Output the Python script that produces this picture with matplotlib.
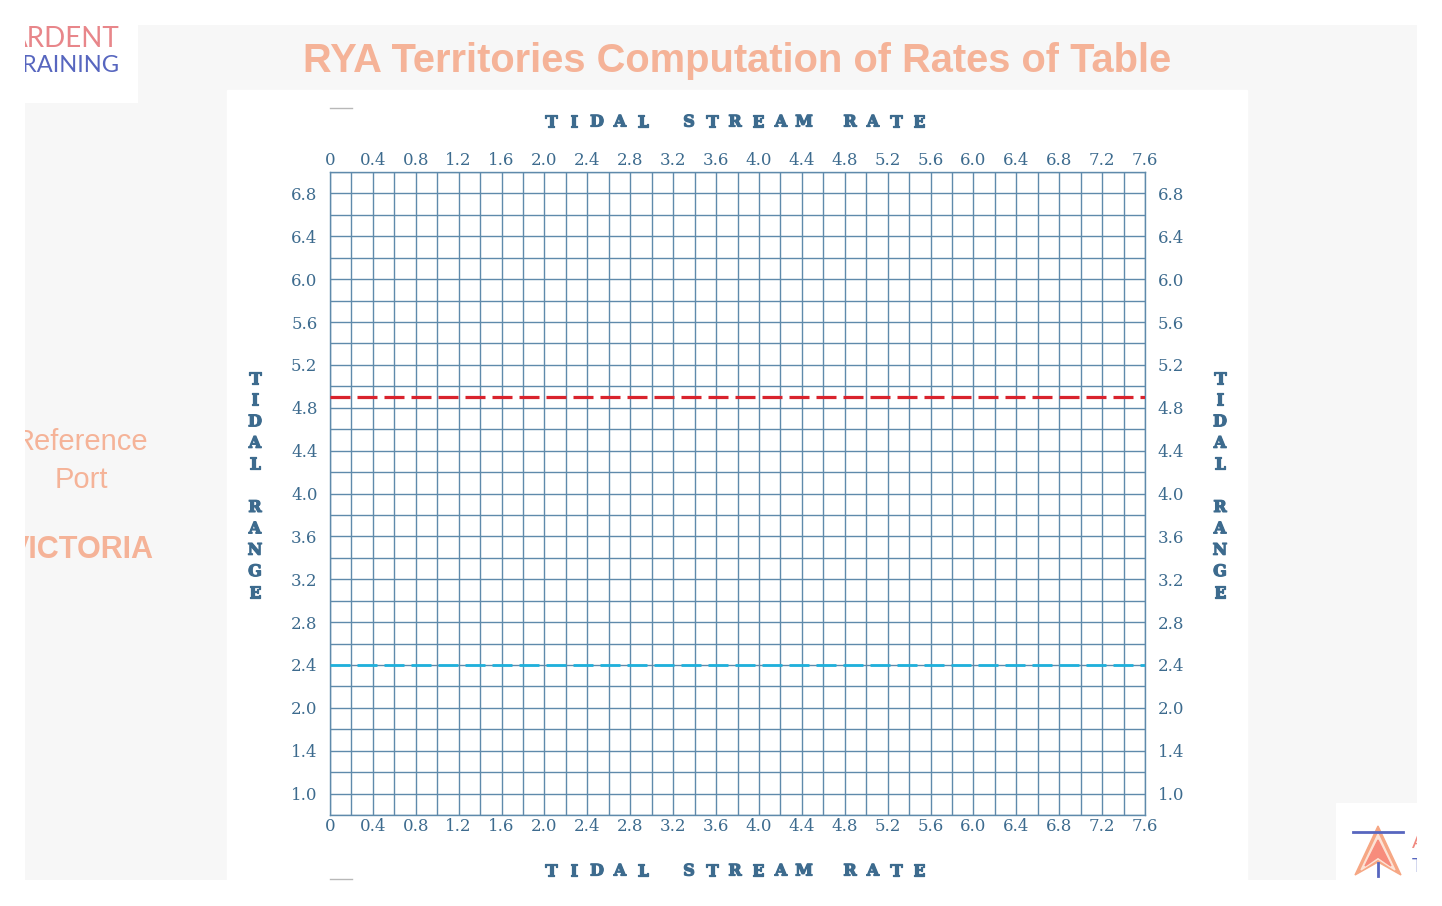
import numpy as np
import matplotlib
matplotlib.use("Agg")
import matplotlib.pyplot as plt
import matplotlib.patheffects as pe
from matplotlib.patches import Rectangle, Polygon

# chart data
x_ticks = [0, 0.4, 0.8, 1.2, 1.6, 2.0, 2.4, 2.8, 3.2, 3.6, 4.0, 4.4, 4.8, 5.2, 5.6, 6.0, 6.4, 6.8, 7.2, 7.6]
x_labels = ["0", "0.4", "0.8", "1.2", "1.6", "2.0", "2.4", "2.8", "3.2", "3.6", "4.0",
            "4.4", "4.8", "5.2", "5.6", "6.0", "6.4", "6.8", "7.2", "7.6"]
y_ticks = [6.8, 6.4, 6.0, 5.6, 5.2, 4.8, 4.4, 4.0, 3.6, 3.2, 2.8, 2.4, 2.0, 1.6, 1.2]
y_labels = ["6.8", "6.4", "6.0", "5.6", "5.2", "4.8", "4.4", "4.0", "3.6", "3.2",
            "2.8", "2.4", "2.0", "1.4", "1.0"]
x_range = (0, 7.6)
y_range = (1.0, 7.0)
grid_step = 0.2
red_level = 4.9
cyan_level = 2.4

title = "RYA Territories Computation of Rates of Table"
x_title = "TIDAL STREAM RATE"
y_title = "TIDAL RANGE"

W, H = 1442, 906
BLUE = "#3d6b8e"
GRID = "#5f8aab"
SALMON = "#f5b398"


def rect(x0, y0, x1, y1):
    return [x0 / W, 1 - y1 / H, (x1 - x0) / W, (y1 - y0) / H]


fig = plt.figure(figsize=(W / 100, H / 100), dpi=100, facecolor="white")

# light grey page with white panel
bg = fig.add_axes(rect(25, 25, 1417, 880))
bg.set_xlim(25, 1417)
bg.set_ylim(880, 25)
bg.axis("off")
bg.add_patch(Rectangle((25, 25), 1392, 855, color="#f7f7f7", zorder=0))
bg.add_patch(Rectangle((227, 90), 1020, 790, color="white", zorder=1))
bg.plot([330, 352], [108, 108], color="#b8b8b8", lw=1, zorder=2)
bg.plot([330, 352], [879, 879], color="#b8b8b8", lw=1, zorder=2, clip_on=False)
bg.text(81, 461, "Reference\nPort", ha="center", va="center", fontsize=21,
        color=SALMON, family="Liberation Sans", linespacing=1.45, clip_on=True, zorder=3)
bg.text(81, 550, "VICTORIA", ha="center", va="center", fontsize=22, fontweight="bold",
        color=SALMON, family="Liberation Sans", clip_on=True, zorder=3)
bg.text(737, 61, title, ha="center", va="center", fontsize=28.7, fontweight="bold",
        color=SALMON, family="Liberation Sans", zorder=3)

# top-left logo
lg = fig.add_axes(rect(25, 25, 138, 103))
lg.set_xlim(25, 138)
lg.set_ylim(103, 25)
lg.axis("off")
lg.add_patch(Rectangle((25, 25), 113, 78, color="white"))
lg.text(120, 39, "ARDENT", ha="right", va="center", fontsize=20, color="#e8868a",
        family="Lato", clip_on=True)
lg.text(120, 66, "TRAINING", ha="right", va="center", fontsize=17, color="#5766bf",
        family="Lato", clip_on=True)

# bottom-right logo
br = fig.add_axes(rect(1336, 803, 1417, 880))
br.set_xlim(1336, 1417)
br.set_ylim(880, 803)
br.axis("off")
br.add_patch(Rectangle((1336, 803), 81, 77, color="white"))
br.add_patch(Polygon([(1378, 826), (1401, 875), (1378, 862), (1355, 875)], color="#f6a784"))
br.add_patch(Polygon([(1378, 834), (1395, 870), (1378, 859), (1361, 870)], color="#fde3d6"))
br.add_patch(Polygon([(1378, 840), (1391, 866), (1378, 857), (1365, 866)], color="#f78c7c"))
br.plot([1353, 1403], [832, 832], color="#5766bf", lw=2)
br.plot([1378, 1378], [863, 876], color="#5766bf", lw=2)
br.text(1412, 842, "A", ha="left", va="center", fontsize=14, color="#f08a80",
        family="Lato", clip_on=True)
br.text(1412, 866, "T", ha="left", va="center", fontsize=14, color="#5766bf",
        family="Lato", clip_on=True)

# main grid chart
ax = fig.add_axes(rect(330, 172, 1145, 815))
ax.set_xlim(*x_range)
ax.set_ylim(*y_range)
ax.set_xticks(x_ticks)
ax.set_xticklabels(x_labels)
ax.set_yticks(y_ticks)
ax.set_yticklabels(y_labels)
ax.set_xticks(np.arange(x_range[0], x_range[1] + 0.01, grid_step), minor=True)
ax.set_yticks(np.arange(y_range[0], y_range[1] + 0.01, grid_step), minor=True)
ax.grid(which="both", color=GRID, lw=1)
ax.set_axisbelow(True)
ax.tick_params(which="both", length=0, colors=BLUE, labelsize=12,
               top=True, labeltop=True, right=True, labelright=True)
ax.tick_params(axis="x", which="major", pad=2)
ax.tick_params(axis="y", which="major", pad=9)
for lab in ax.get_xticklabels() + ax.get_yticklabels():
    lab.set_family("DejaVu Serif")
for s in ax.spines.values():
    s.set_color(GRID)
    s.set_linewidth(1)

ax.axhline(red_level, color="#d9232d", lw=2.3, dashes=(20 * 0.72 / 2.3, 7 * 0.72 / 2.3), zorder=3)
ax.axhline(cyan_level, color="#1fb0dc", lw=2.0, dashes=(20 * 0.72 / 2.0, 7 * 0.72 / 2.0), zorder=3)

# spaced axis titles, one letter per slot
thick = [pe.withStroke(linewidth=0.9, foreground=BLUE)]
n = len(x_title)
for i, ch in enumerate(x_title):
    xp = (735 + (i - (n - 1) / 2) * 23) / W
    for yy in (122, 871):
        fig.text(xp, 1 - yy / H, ch, ha="center", va="center", fontsize=11.5,
                 fontweight="heavy", color=BLUE, family="DejaVu Serif", path_effects=thick)
m = len(y_title)
for i, ch in enumerate(y_title):
    yp = 1 - (486 + (i - (m - 1) / 2) * 21.4) / H
    for xx in (255, 1220):
        fig.text(xx / W, yp, ch, ha="center", va="center", fontsize=11.5,
                 fontweight="heavy", color=BLUE, family="DejaVu Serif", path_effects=thick)

fig.savefig("out.png", dpi=100, facecolor="white")
